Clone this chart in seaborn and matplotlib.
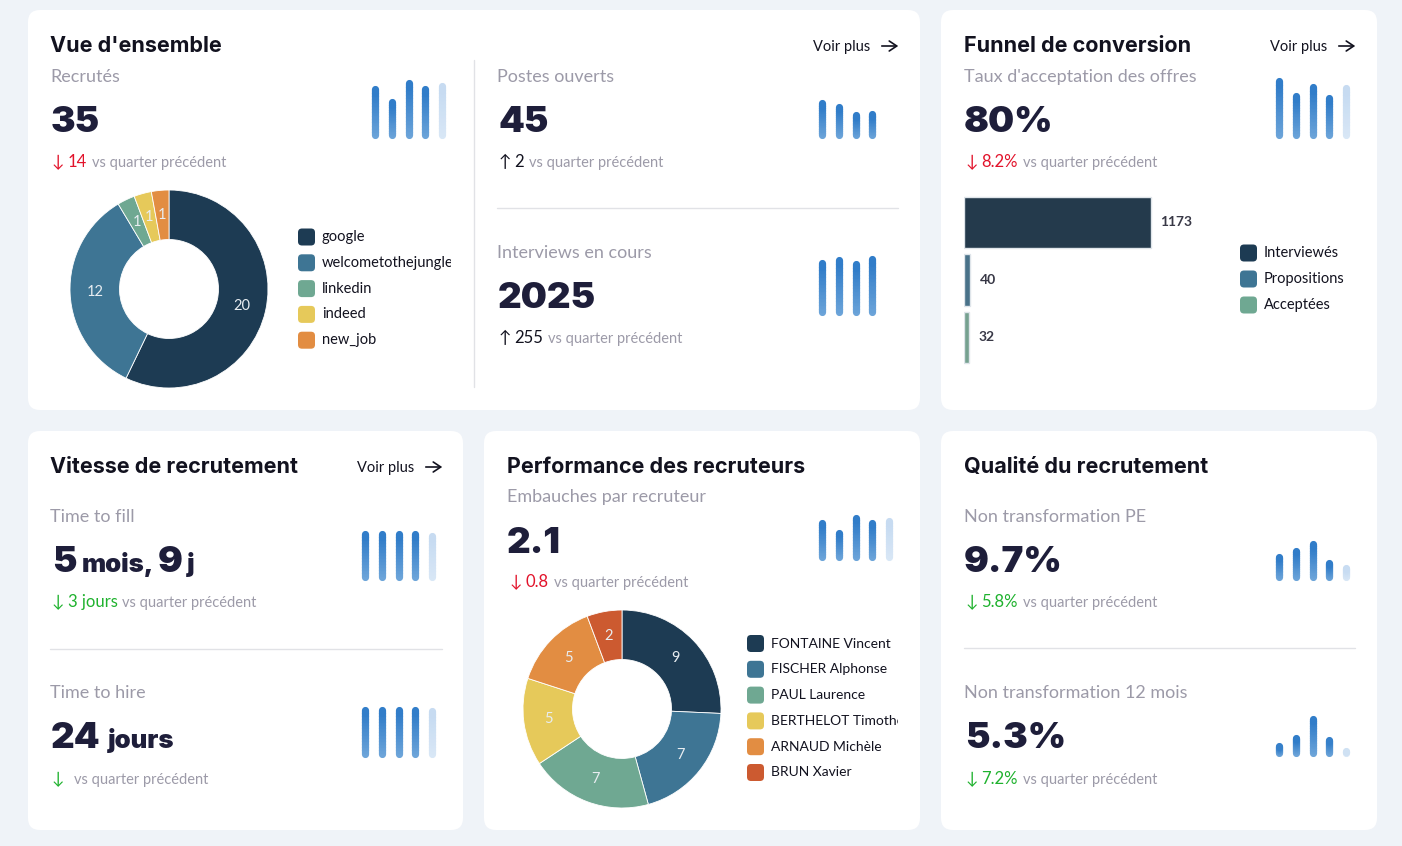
import matplotlib
matplotlib.use('Agg')
import matplotlib.pyplot as plt
from matplotlib.patches import FancyBboxPatch
from matplotlib.transforms import Bbox
from matplotlib.colors import to_rgb
import numpy as np
import seaborn as sns
import pandas as pd

# ---- data ----
source_names = ['google', 'welcometothejungle', 'linkedin', 'indeed', 'new_job']
source_hires = [20, 12, 1, 1, 1]

recruiter_names = ['FONTAINE Vincent', 'FISCHER Alphonse', 'PAUL Laurence',
                   'BERTHELOT Timothée', 'ARNAUD Michèle', 'BRUN Xavier']
recruiter_hires = [9, 7, 7, 5, 5, 2]

funnel_stages = ['Interviewés', 'Propositions', 'Acceptées']
funnel_counts = [1173, 40, 32]

# quarterly sparklines (relative heights, last quarter in progress)
spark_recrutes = [46, 33, 52, 46, 49]
spark_postes = [32, 28, 20, 21, 0]
spark_interviews = [49, 52, 48, 53, 0]
spark_acceptation = [54, 39, 48, 37, 47]
spark_fill = [43, 43, 43, 43, 41]
spark_hire = [44, 44, 44, 44, 43]
spark_perf = [34, 24, 39, 34, 36]
spark_pe = [20, 26, 33, 14, 9]
spark_12m = [7, 15, 34, 13, 2]

# ---- style ----
BG = '#eff3f8'
INK = '#12121f'
NAVY = '#1e1e3a'
GREY = '#9c9aa8'
RED = '#e2132b'
GREEN = '#1fb22e'
BLUE_TOP, BLUE_BOT = '#2f7bc8', '#6ea5da'
LIGHT_TOP, LIGHT_BOT = '#c6dbf1', '#d9e7f6'
pal = ['#1d3b53', '#3e7594', '#6fa892', '#e6c95a', '#e28d42', '#cc5a30']
HEAVY = ['Inter', 'DejaVu Sans']

sns.set_theme(style='white')
plt.rcParams['font.family'] = ['Lato', 'DejaVu Sans']

W, H = 1402, 846
fig = plt.figure(figsize=(W / 100, H / 100), dpi=100)
fig.patch.set_facecolor(BG)
bg = fig.add_axes([0, 0, 1, 1], zorder=0)
bg.set_xlim(0, W)
bg.set_ylim(H, 0)
bg.axis('off')
renderer = fig.canvas.get_renderer()


def sub_axes(x, y, w, h):
    ax = fig.add_axes([x / W, 1 - (y + h) / H, w / W, h / H], zorder=2)
    ax.set_facecolor('none')
    return ax


def run(x, y, parts):
    # draws text pieces one after another on the same baseline
    for s, kw, gap in parts:
        t = bg.text(x, y, s, va='baseline', ha='left', **kw)
        x += t.get_window_extent(renderer).width + gap


def title(x, y, s):
    bg.text(x, y, s, fontsize=15.5, fontweight='bold', color=INK, va='baseline',
            family=HEAVY)


def subtitle(x, y, s):
    bg.text(x, y, s, fontsize=13, color=GREY, va='baseline')


big_kw = dict(fontsize=26.5, fontweight='black', color=NAVY, family=HEAVY)
unit_kw = dict(fontsize=18.5, fontweight='black', color=NAVY, family=HEAVY)


def big(x, y, s):
    bg.text(x, y, s, va='baseline', **big_kw)


def delta(x, y, arrow, value, color, gap=5):
    parts = [(arrow, dict(fontsize=12, color=color), 3)]
    if value:
        parts.append((value, dict(fontsize=12, color=color), gap))
    else:
        parts[0] = (arrow, dict(fontsize=12, color=color), 10)
    parts.append(('vs quarter précédent', dict(fontsize=10.5, color=GREY), 0))
    run(x, y, parts)


def voir_plus(x, y):
    bg.text(x, y, 'Voir plus', fontsize=10.5, color=INK, va='baseline')
    bg.annotate('', xy=(x + 88, y - 5), xytext=(x + 66, y - 5),
                arrowprops=dict(arrowstyle='->,head_length=0.45,head_width=0.3',
                                lw=1.2, color=INK))


def spark(x0, base, vals, n_seg=14):
    ax = sub_axes(x0 - 8.4, base - 3.5 - 70, 84, 70)
    for i, v in enumerate(vals):
        if v <= 0:
            continue
        last = i == len(vals) - 1
        top, bot = (LIGHT_TOP, LIGHT_BOT) if last else (BLUE_TOP, BLUE_BOT)
        top, bot = np.array(to_rgb(top)), np.array(to_rgb(bot))
        edges = np.linspace(0, v, n_seg + 1)
        # stacked round-capped pieces give a vertical gradient without seams
        for k in range(n_seg):
            f = (k + 0.5) / n_seg
            ax.plot([i, i], [edges[k], edges[k + 1]], color=bot + (top - bot) * f,
                    lw=5.2, solid_capstyle='round', clip_on=False)
    ax.set_xlim(-0.5, len(vals) - 0.5)
    ax.set_ylim(0, 70)
    ax.axis('off')


def donut(cx, cy, vals, colors):
    ax = sub_axes(cx - 99, cy - 99, 198, 198)
    total = sum(vals)
    ax.pie(vals, colors=colors, startangle=90, counterclock=False,
           wedgeprops=dict(width=0.5, edgecolor='white', linewidth=0.6),
           autopct=lambda p: f'{p * total / 100:.0f}', pctdistance=0.75,
           textprops=dict(color='#e8edf1', fontsize=10.5))
    ax.set_xlim(-1, 1)
    ax.set_ylim(-1, 1)


def legend(x, y0, dy, names, colors, clip_x=None, fs=10.5):
    for i, (n, c) in enumerate(zip(names, colors)):
        y = y0 + i * dy
        bg.add_patch(FancyBboxPatch((x, y - 8.5), 17, 17,
                                    boxstyle='round,pad=0,rounding_size=4',
                                    fc=c, ec='none'))
        t = bg.text(x + 24, y, n, fontsize=fs, color=INK, va='center')
        if clip_x:
            t.set_clip_box(Bbox.from_extents(x, H - y - 20, clip_x, H - y + 20))
            t.set_clip_on(True)


# ---- cards ----
cards = [(28, 10, 892, 400), (941, 10, 436, 400),
         (28, 431, 435, 399), (484, 431, 436, 399), (941, 431, 436, 399)]
for x, y, w, h in cards:
    bg.add_patch(FancyBboxPatch((x, y), w, h, boxstyle='round,pad=0,rounding_size=12',
                                fc='white', ec='none'))

sep = dict(color='#e1e2e6', lw=1)
bg.plot([474, 474], [60, 387], **sep)
bg.plot([497, 898], [208, 208], **sep)
bg.plot([50, 442], [649, 649], **sep)
bg.plot([964, 1355], [648, 648], **sep)

# Vue d'ensemble
title(50, 52, "Vue d'ensemble")
voir_plus(813, 51)
subtitle(50, 82, 'Recrutés')
big(51, 132, '35')
delta(52, 167, '↓', '14', RED)
spark(375, 139, spark_recrutes)
donut(169, 289, source_hires, pal[:5])
legend(298, 237, 25.8, source_names, pal[:5], clip_x=451)

subtitle(497, 82, 'Postes ouverts')
big(498, 132, '45')
delta(499, 167, '↑', '2', INK)
spark(822, 139, spark_postes)

subtitle(497, 258, 'Interviews en cours')
big(498, 308, '2025')
delta(499, 343, '↑', '255', INK)
spark(822, 316, spark_interviews)

# Funnel de conversion
title(964, 52, 'Funnel de conversion')
voir_plus(1270, 51)
subtitle(964, 82, "Taux d'acceptation des offres")
big(964, 132, '80%')
delta(966, 167, '↓', '8.2%', RED)
spark(1279, 139, spark_acceptation)

fax = sub_axes(964, 193.7, 267, 172.5)
funnel = pd.DataFrame({'stage': funnel_stages, 'count': funnel_counts})
sns.barplot(data=funnel, x='count', y='stage', hue='stage', palette=pal[:3],
            width=0.9, orient='h', ax=fax, legend=False,
            edgecolor='#dfe5ea', linewidth=1)
fax.set_xlim(0, 1173 * 267 / 186.7)
fax.set_ylim(2.5, -0.5)
for c in fax.containers:
    fax.bar_label(c, padding=6.5, fontsize=10, color='#383846', fontweight='bold')
fax.axis('off')
legend(1240, 253, 26, funnel_stages, pal[:3])

# Vitesse de recrutement
title(50, 473, 'Vitesse de recrutement')
voir_plus(357, 472)
subtitle(50, 522, 'Time to fill')
run(52, 572, [('5', big_kw, 5), ('mois,', unit_kw, 4), ('9', big_kw, 4), ('j', unit_kw, 0)])
run(52, 607, [('↓', dict(fontsize=12, color=GREEN), 3),
              ('3 jours', dict(fontsize=12, color=GREEN), 5),
              ('vs quarter précédent', dict(fontsize=10.5, color=GREY), 0)])
spark(365, 580, spark_fill)

subtitle(50, 698, 'Time to hire')
run(51, 748, [('24', big_kw, 7), ('jours', unit_kw, 0)])
delta(52, 784, '↓', '', GREEN)
spark(365, 757, spark_hire)

# Performance des recruteurs
title(507, 473, 'Performance des recruteurs')
subtitle(507, 502, 'Embauches par recruteur')
big(507, 553, '2.1')
delta(510, 587, '↓', '0.8', RED)
spark(822, 560, spark_perf)
donut(622, 709, recruiter_hires, pal)
legend(747, 643.5, 25.8, recruiter_names, pal, clip_x=898, fs=10)

# Qualité du recrutement
title(964, 473, 'Qualité du recrutement')
subtitle(964, 522, 'Non transformation PE')
big(964, 572, '9.7%')
delta(966, 607, '↓', '5.8%', GREEN)
spark(1279, 580, spark_pe)

subtitle(964, 698, 'Non transformation 12 mois')
big(965, 748, '5.3%')
delta(966, 784, '↓', '7.2%', GREEN)
spark(1279, 756, spark_12m)

fig.savefig('out.png', dpi=100, facecolor=BG)
